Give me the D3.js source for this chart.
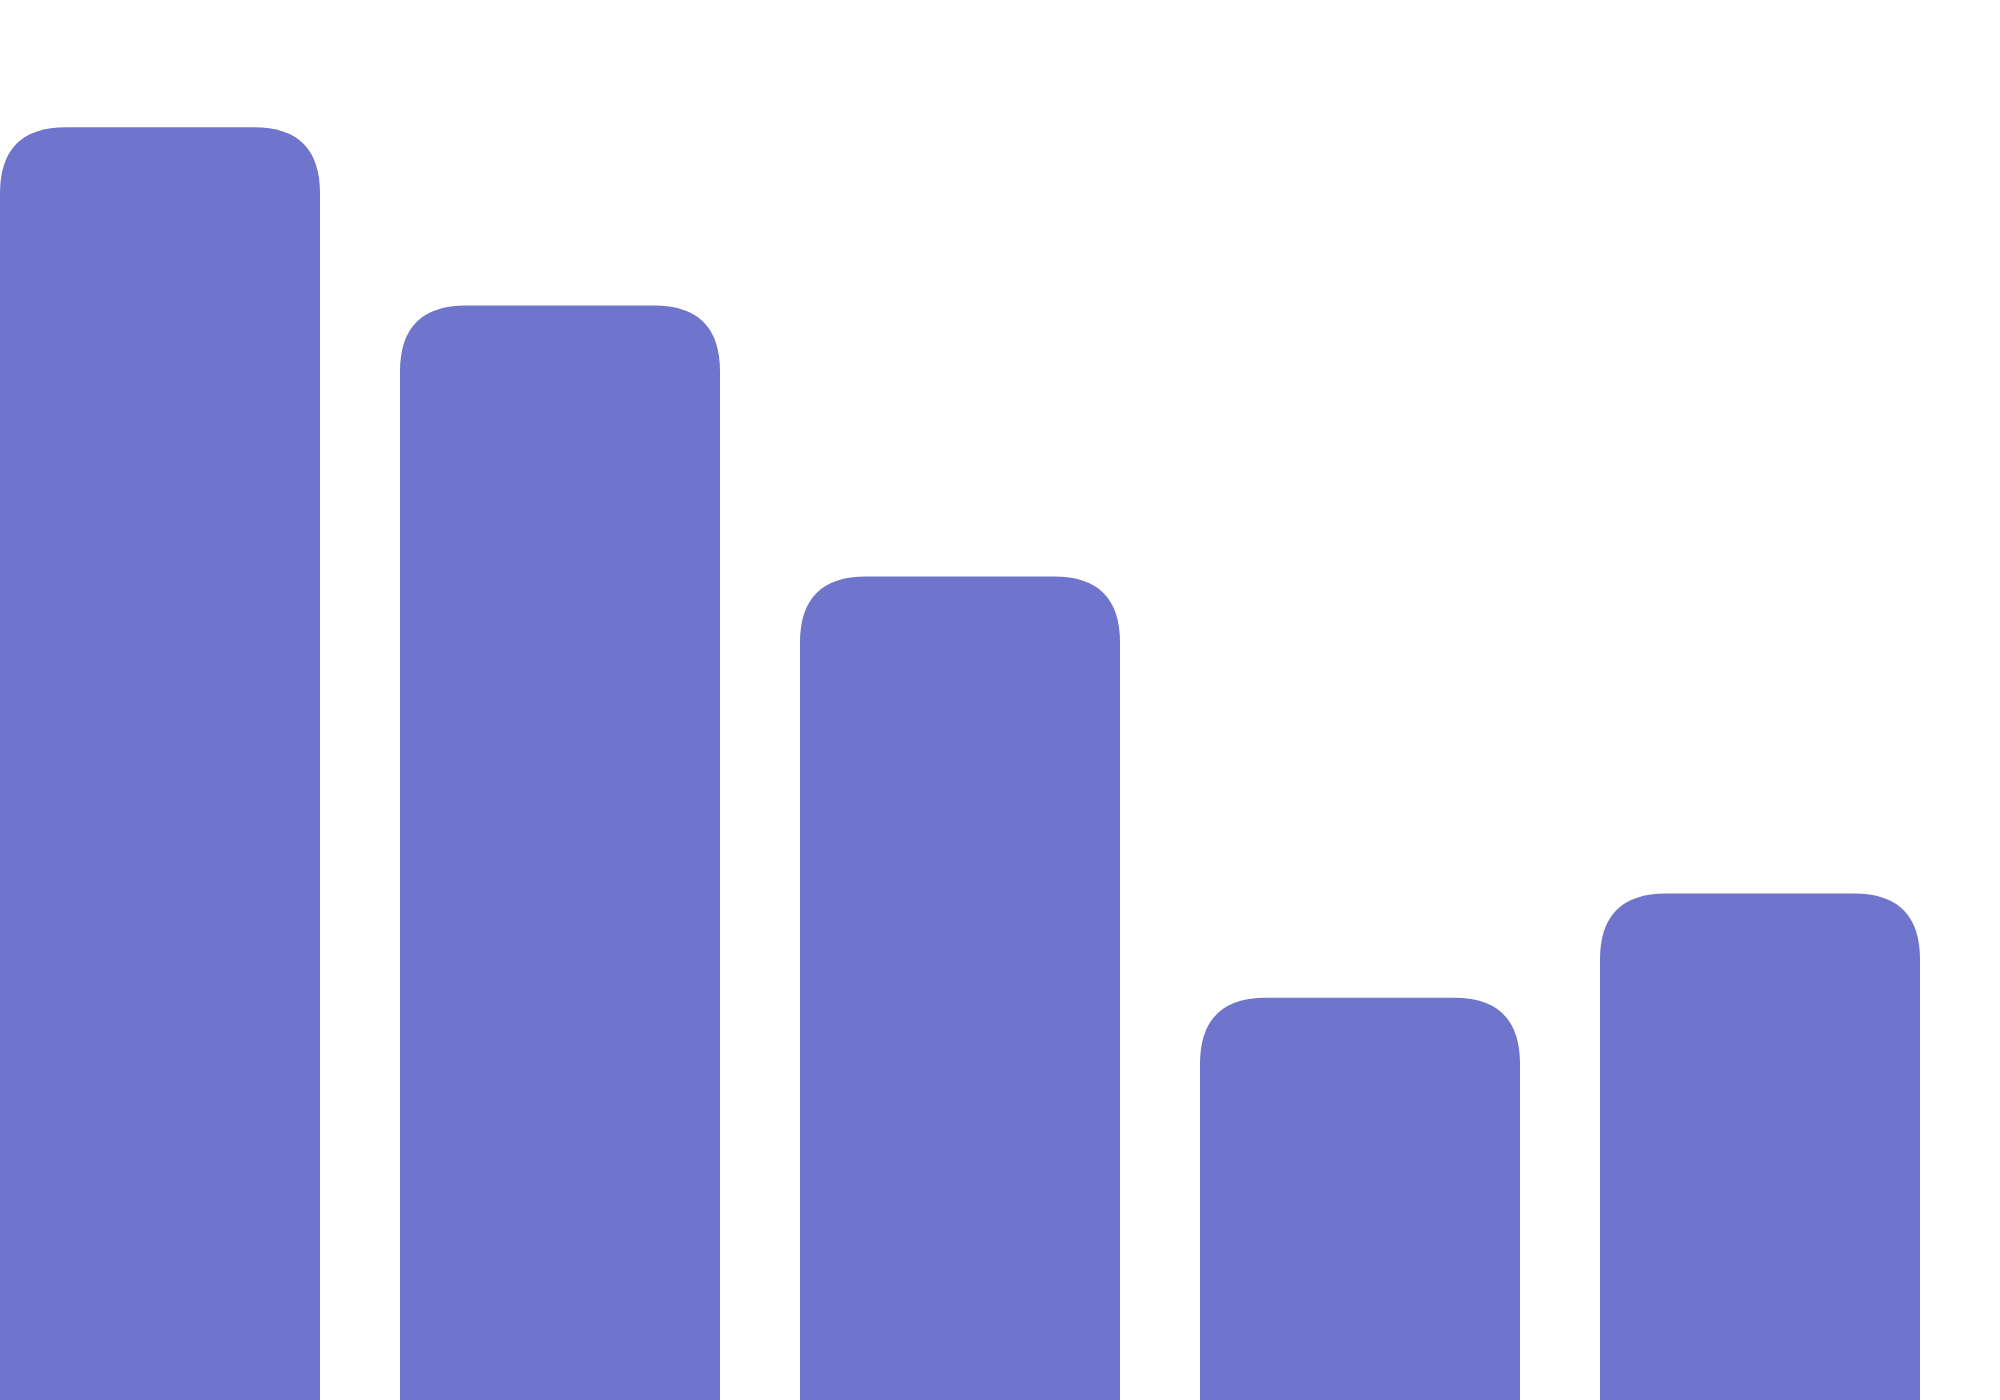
<!DOCTYPE html>
<html>
<head>
<meta charset="utf-8">
<style>
  body { margin: 0; background: #fff; overflow: hidden; }
  svg { display: block; }
</style>
<script src="https://cdn.jsdelivr.net/npm/d3@7.9.0/dist/d3.min.js"></script>
</head>
<body>
<svg id="chart" width="2000" height="1400"></svg>
<script>
const categories = ['A', 'B', 'C', 'D', 'E'];
const values = [100, 86, 64.7, 31.6, 39.8];

const width = 2000;
const height = 1400;
const radius = 66;

let svg = d3.select('#chart');

let x = d3.scaleBand()
  .domain(categories)
  .range([0, width])
  .paddingInner(0.2)
  .paddingOuter(0.1)
  .align(0);

let y = d3.scaleLinear()
  .domain([0, d3.max(values) * 1.1])
  .range([height, 0]);

// bar with only the top corners rounded
function topRoundedBar(x0, y0, w, h, r) {
  let p = d3.path();
  p.moveTo(x0, y0 + h);
  p.lineTo(x0, y0 + r);
  p.quadraticCurveTo(x0, y0, x0 + r, y0);
  p.lineTo(x0 + w - r, y0);
  p.quadraticCurveTo(x0 + w, y0, x0 + w, y0 + r);
  p.lineTo(x0 + w, y0 + h);
  p.closePath();
  return p.toString();
}

let data = categories.map((c, i) => ({ label: c, value: values[i] }));

svg.selectAll('path.bar')
  .data(data)
  .join('path')
  .attr('class', 'bar')
  .attr('fill', '#6f75cc')
  .attr('d', (d) => topRoundedBar(x(d.label), y(d.value), x.bandwidth(), height - y(d.value), radius));
</script>
</body>
</html>
